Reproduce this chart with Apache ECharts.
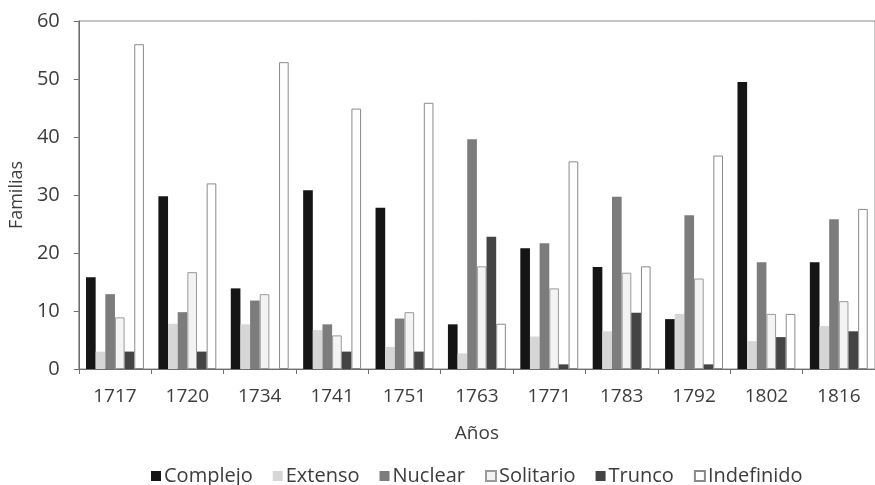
<!DOCTYPE html>
<html>
<head>
<meta charset="utf-8">
<script src="https://cdn.jsdelivr.net/npm/echarts@6/dist/echarts.min.js"></script>
<style>
  html, body { margin: 0; padding: 0; background: #fff; }
  #chart { width: 875px; height: 485px; }
</style>
</head>
<body>
<div id="chart"></div>
<script>
// Years of each household census
const years = ['1717', '1720', '1734', '1741', '1751', '1763', '1771', '1783', '1792', '1802', '1816'];

// Number of families by household type
const complejo   = [15.8, 29.8, 13.9, 30.8, 27.8, 7.7, 20.8, 17.6, 8.6, 49.5, 18.4];
const extenso    = [3.0, 7.8, 7.7, 6.7, 3.8, 2.7, 5.6, 6.5, 9.5, 4.8, 7.4];
const nuclear    = [12.9, 9.8, 11.8, 7.7, 8.7, 39.6, 21.7, 29.7, 26.5, 18.4, 25.8];
const solitario  = [8.9, 16.7, 12.9, 5.8, 9.8, 17.7, 13.9, 16.6, 15.6, 9.5, 11.7];
const trunco     = [3.0, 3.0, 0, 3.0, 3.0, 22.8, 0.8, 9.7, 0.8, 5.5, 6.5];
const indefinido = [56.0, 32.0, 52.9, 44.9, 45.9, 7.8, 35.8, 17.7, 36.8, 9.5, 27.6];

const font = '"Open Sans", "DejaVu Sans", sans-serif';
const textColor = '#3c3c3c';

function bar(name, data, fill, border) {
  return {
    name: name,
    type: 'bar',
    data: data,
    barGap: '0%',
    barCategoryGap: '20%',
    itemStyle: {
      color: fill,
      borderColor: border || fill,
      borderWidth: border ? 1 : 0
    }
  };
}

const chart = echarts.init(document.getElementById('chart'), null, { renderer: 'canvas' });
chart.setOption({
  animation: false,
  backgroundColor: '#ffffff',
  grid: {
    left: 78, right: -4, top: 21, bottom: 116,
    show: true, borderColor: '#8a8a8a', borderWidth: 1
  },
  legend: {
    top: 461,
    left: 146,
    itemWidth: 10,
    itemHeight: 10,
    itemGap: 20,
    icon: 'rect',
    textStyle: { fontFamily: font, fontSize: 20, color: textColor, padding: [0, 0, 0, -2] },
    data: ['Complejo', 'Extenso', 'Nuclear', 'Solitario', 'Trunco', 'Indefinido']
  },
  xAxis: {
    type: 'category',
    data: years,
    name: 'Años',
    nameLocation: 'middle',
    nameGap: 55,
    nameTextStyle: { fontFamily: font, fontSize: 19, color: textColor },
    axisLine: { lineStyle: { color: '#6e6e6e', width: 1 } },
    axisTick: { show: true, length: 5, alignWithLabel: false, lineStyle: { color: '#6e6e6e' } },
    axisLabel: { fontFamily: font, fontSize: 19, color: textColor, margin: 18 }
  },
  yAxis: {
    type: 'value',
    min: 0, max: 60, interval: 10,
    name: 'Familias',
    nameLocation: 'middle',
    nameGap: 52,
    nameTextStyle: { fontFamily: font, fontSize: 18, color: textColor },
    axisLine: { show: true, lineStyle: { color: '#6e6e6e', width: 1 } },
    axisTick: { show: true, length: 5, inside: false, lineStyle: { color: '#6e6e6e' } },
    splitLine: { show: false },
    axisLabel: { fontFamily: font, fontSize: 20, color: textColor, margin: 19 }
  },
  series: [
    bar('Complejo', complejo, '#151515'),
    bar('Extenso', extenso, '#d6d6d6'),
    bar('Nuclear', nuclear, '#7c7c7c'),
    bar('Solitario', solitario, '#f3f3f3', '#9a9a9a'),
    bar('Trunco', trunco, '#444444'),
    bar('Indefinido', indefinido, '#ffffff', '#8a8a8a')
  ]
});
</script>
</body>
</html>
